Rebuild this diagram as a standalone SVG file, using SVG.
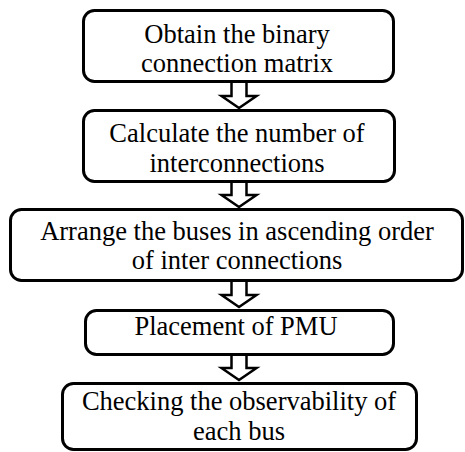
<svg xmlns="http://www.w3.org/2000/svg" width="465" height="452" viewBox="0 0 465 452">
  <style>
    .box { fill: #ffffff; stroke: #000000; stroke-width: 3; }
    .label { font-family: "Liberation Serif", "Times New Roman", serif; font-size: 26.5px; fill: #000000; text-anchor: middle; }
    .arrow { fill: #ffffff; stroke: #000000; stroke-width: 2.5; stroke-linejoin: miter; }
  </style>
  <rect width="465" height="452" fill="#ffffff"/>

  <g id="connectors">
    <path class="arrow" d="M231.5,83 V96 H221.5 L239,108 L256.5,96 H246.5 V83"/>
    <path class="arrow" d="M231.5,183 V195 H221.5 L239,207 L256.5,195 H246.5 V183"/>
    <path class="arrow" d="M231.5,282 V295 H221.5 L239,307 L256.5,295 H246.5 V282"/>
    <path class="arrow" d="M231.5,356 V368 H221.5 L239,380 L256.5,368 H246.5 V356"/>
  </g>

  <g id="node-obtain">
    <rect class="box" x="83.5" y="10.5" width="310" height="71" rx="11"/>
    <text class="label" x="237" y="43">Obtain the binary</text>
    <text class="label" x="237" y="72">connection matrix</text>
  </g>

  <g id="node-calculate">
    <rect class="box" x="83.5" y="110.5" width="311" height="71" rx="11"/>
    <text class="label" x="237" y="142">Calculate the number of</text>
    <text class="label" x="237" y="172">interconnections</text>
  </g>

  <g id="node-arrange">
    <rect class="box" x="10.5" y="209.5" width="452" height="71" rx="11"/>
    <text class="label" x="237" y="240">Arrange the buses in ascending order</text>
    <text class="label" x="237" y="269">of inter connections</text>
  </g>

  <g id="node-placement">
    <rect class="box" x="85.5" y="310.5" width="308" height="44" rx="11"/>
    <text class="label" x="236" y="335">Placement of PMU</text>
  </g>

  <g id="node-check">
    <rect class="box" x="62.5" y="383.5" width="354" height="66" rx="11"/>
    <text class="label" x="239" y="410">Checking the observability of</text>
    <text class="label" x="239" y="440">each bus</text>
  </g>
</svg>
